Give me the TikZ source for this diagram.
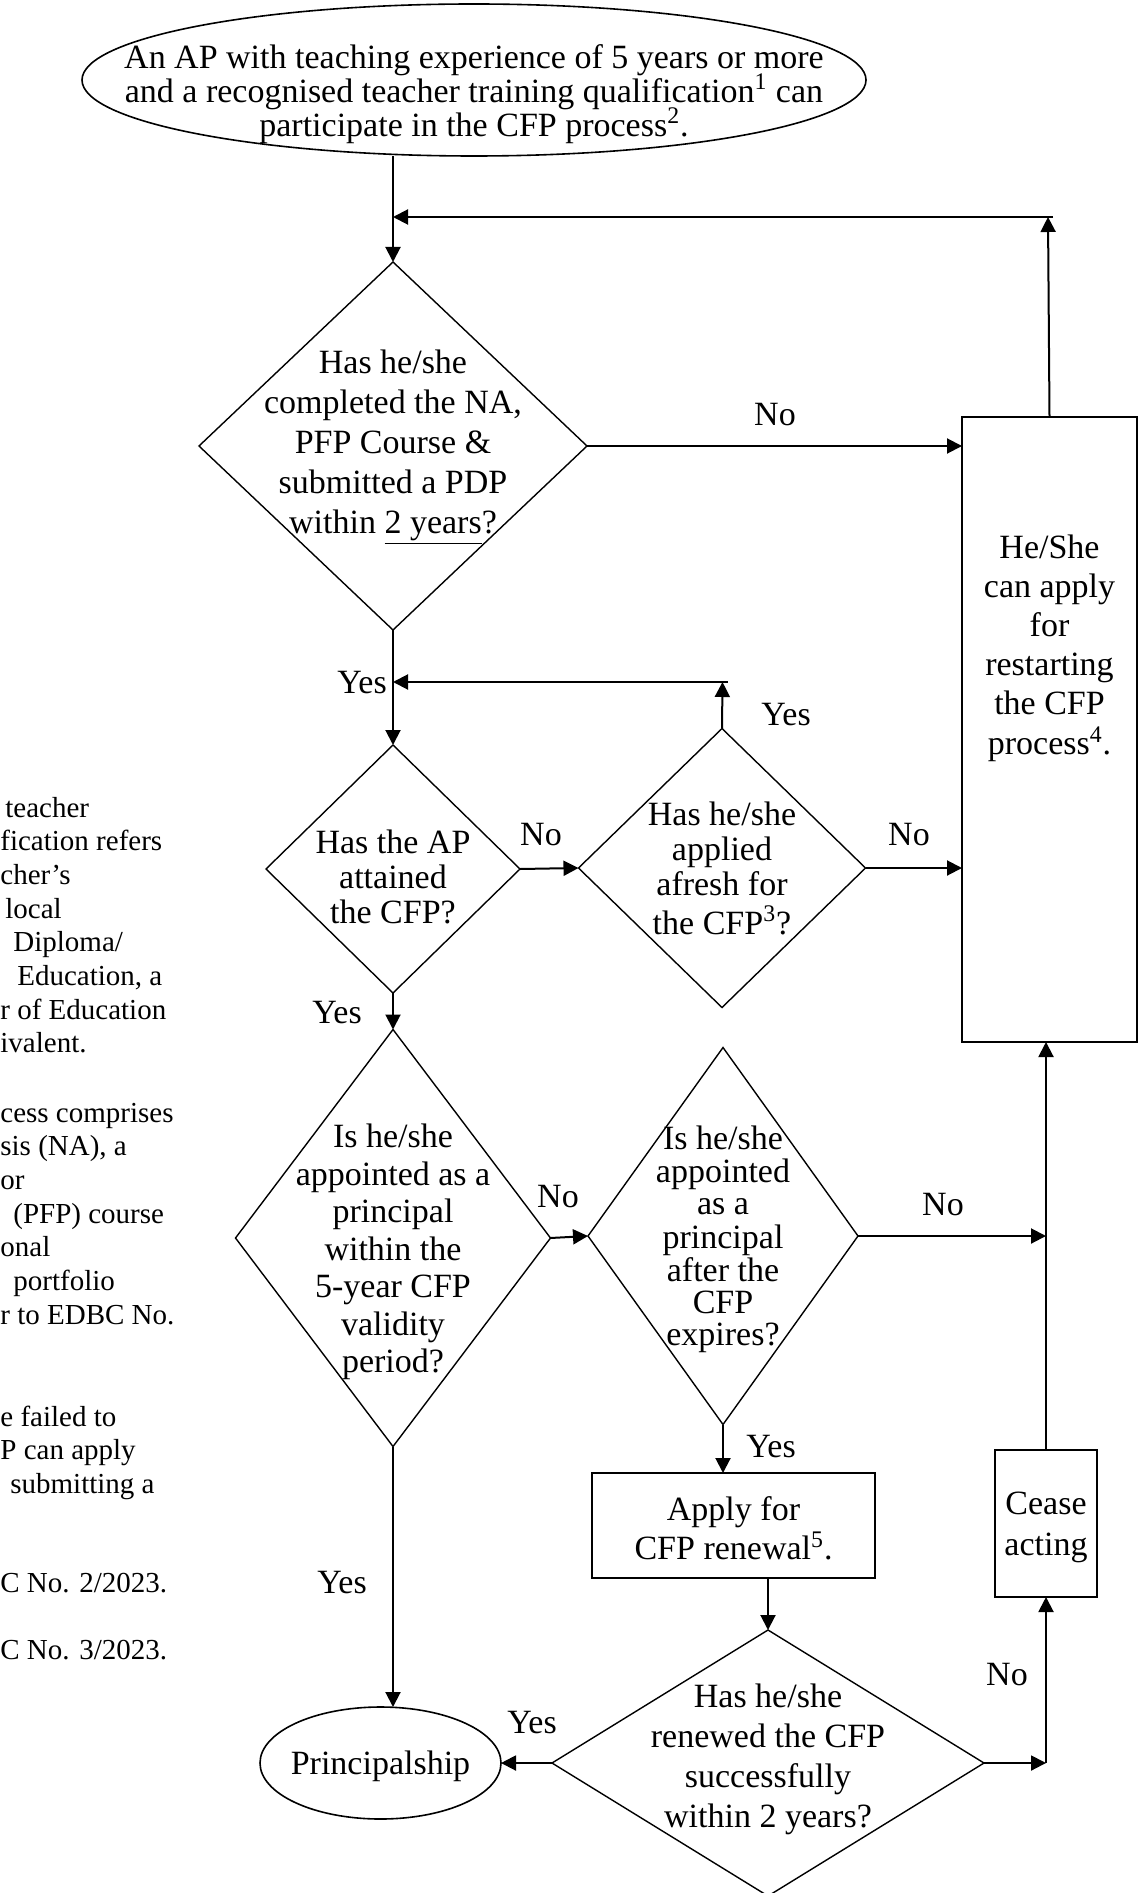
\documentclass[tikz,border=0pt]{standalone}
\usepackage{fontspec}
\setmainfont{Liberation Serif}
\usetikzlibrary{shapes.geometric,arrows.meta}
% centred text of fixed size, the shape gets its size from the options
\newcommand{\ctext}[3][0pt]{\smash{\raisebox{\dimexpr#1-6pt\relax}{\makebox[0pt]{\fontsize{17}{#2}\selectfont\begin{tabular}{@{}c@{}}#3\end{tabular}}}}}
\newcommand{\fnote}[1]{\fontsize{14.5}{16.85}\selectfont\begin{tabular}[t]{@{}l@{}}#1\end{tabular}}
\newcommand{\sups}[1]{\smash{\textsuperscript{#1}}}
\begin{document}
\begin{tikzpicture}[x=0.5pt,y=-0.5pt,
    decision/.style={diamond,draw,line width=0.7pt,inner sep=0pt,outer sep=0pt},
    stepbox/.style={rectangle,draw,line width=1pt,inner sep=0pt,outer sep=0pt},
    terminal/.style={ellipse,draw,line width=0.8pt,inner sep=0pt,outer sep=0pt},
    lbl/.style={font=\fontsize{17}{20}\selectfont,inner sep=0pt},
    arr/.style={-{Triangle[length=7.5pt,width=7.5pt]},line width=1pt}]
    \useasboundingbox (0,0) rectangle (1146,1893);
    \node (start) at (474,80) [terminal,minimum width=392pt,minimum height=76pt]
    {\ctext[-6pt]{17}{An AP with teaching experience of 5 years or more\\and a recognised teacher training qualification\sups{1} can\\participate in the CFP process\sups{2}.}};
    \node (d1) at (393,446) [decision,minimum width=194pt,minimum height=184pt]
    {\ctext[2pt]{20}{Has he/she\\completed the NA,\\PFP Course \&\\submitted a PDP\\within \underline{2 years}?}};
    \node (restart) at (1049.5,729.5) [stepbox,minimum width=87.5pt,minimum height=312.5pt]
    {\ctext[42pt]{19.5}{He/She\\can apply\\for\\restarting\\the CFP\\process\textsuperscript{4}.}};
    \node (d2) at (393,869) [decision,minimum width=127pt,minimum height=124pt]
    {\ctext[-4.5pt]{17.5}{Has the AP\\attained\\the CFP?}};
    \node (d3) at (722,868) [decision,minimum width=143.5pt,minimum height=139.5pt]
    {\ctext[-0.75pt]{17.5}{Has he/she\\applied\\afresh for\\the CFP\textsuperscript{3}?}};
    \node (d4) at (393,1238) [decision,minimum width=157.5pt,minimum height=208.5pt]
    {\ctext[-5.75pt]{18.75}{Is he/she\\appointed as a\\principal\\within the\\5-year CFP\\validity\\period?}};
    \node (d5) at (723,1236) [decision,minimum width=135pt,minimum height=188.5pt]
    {\ctext[-0.75pt]{16}{Is he/she\\appointed\\as a\\principal\\after the\\CFP\\expires?}};
    \node (apply) at (733.5,1525.5) [stepbox,minimum width=141.5pt,minimum height=52.5pt]
    {\ctext[-1.75pt]{19}{Apply for\\CFP renewal\textsuperscript{5}.}};
    \node (cease) at (1046,1523.5) [stepbox,minimum width=51pt,minimum height=73.5pt]
    {\ctext{20.5}{Cease\\acting}};
    \node (d6) at (768,1763) [decision,minimum width=216pt,minimum height=133pt]
    {\ctext[3.5pt]{20}{Has he/she\\renewed the CFP\\successfully\\within 2 years?}};
    \node (princ) at (380.5,1763) [terminal,minimum width=120.5pt,minimum height=56pt]
    {\ctext{20}{Principalship}};
    % yes / no labels
    \node (no1) at (775,415) [lbl] {No};
    \node (yes1) at (362,683) [lbl] {Yes};
    \node (yes2) at (786,715) [lbl] {Yes};
    \node (no2) at (541,835) [lbl] {No};
    \node (no3) at (909,835) [lbl] {No};
    \node (yes3) at (337,1013) [lbl] {Yes};
    \node (no4) at (558,1197) [lbl] {No};
    \node (no5) at (943,1205) [lbl] {No};
    \node (yes4) at (771,1447) [lbl] {Yes};
    \node (yes5) at (342,1583) [lbl] {Yes};
    \node (yes6) at (532,1723) [lbl] {Yes};
    \node (no6) at (1007,1675) [lbl] {No};
    % notes cut at the left edge
    \node (fn1) at (0,817) [anchor=base west,inner sep=0pt]
    {\fnote{\hspace{2.5pt}teacher\\fication refers\\cher’s\\\hspace{2.5pt}local\\\hspace{6.5pt}Diploma/\\\hspace{8.5pt}Education, a\\r of Education\\ivalent.}};
    \node (fn2) at (0,1122) [anchor=base west,inner sep=0pt]
    {\fnote{cess comprises\\sis (NA), a\\or\\\hspace{6.5pt}(PFP) course\\onal\\\hspace{6.5pt}portfolio\\r to EDBC No.}};
    \node (fn3) at (0,1426) [anchor=base west,inner sep=0pt]
    {\fnote{e failed to\\P can apply\\\hspace{5pt}submitting a}};
    \node (fn4) at (0,1592) [anchor=base west,inner sep=0pt] {\fnote{C No. 2/2023.}};
    \node (fn5) at (0,1659) [anchor=base west,inner sep=0pt] {\fnote{C No. 3/2023.}};
    \coordinate (rtop) at (1048,217);
    \coordinate (yjoin) at (722.5,682);
    \draw[arr] (start.south -| d1.north) -- (d1.north);
    \draw[arr] (restart.north) -- (rtop);
    \draw[arr] ([xshift=2.5pt]rtop) -- (rtop -| d1.north);
    \draw[arr] (d1.east) -- (d1.east -| restart.west);
    \draw[arr] (d1.south) -- (d2.north);
    \draw[arr] (d3.north) -- (yjoin);
    \draw[arr] ([xshift=2.5pt]yjoin) -- (yjoin -| d1.south);
    \draw[arr] (d2.east) -- (d3.west);
    \draw[arr] (d3.east) -- (d3.east -| restart.west);
    \draw[arr] (d2.south) -- (d4.north);
    \draw[arr] (d4.east) -- (d5.west);
    \draw[arr] (d5.east) -- (d5.east -| cease.north);
    \draw[arr] (cease.north) -- (cease.north |- restart.south);
    \draw[arr] (d5.south) -- (d5.south |- apply.north);
    \draw[arr] (apply.south -| d6.north) -- (d6.north);
    \draw[arr] (d4.south) -- (d4.south |- princ.north);
    \draw[arr] (d6.west) -- (princ.east);
    \draw[arr] (d6.east) -- (d6.east -| cease.south);
    \draw[arr] (d6.east -| cease.south) -- (cease.south);
\end{tikzpicture}
\end{document}
